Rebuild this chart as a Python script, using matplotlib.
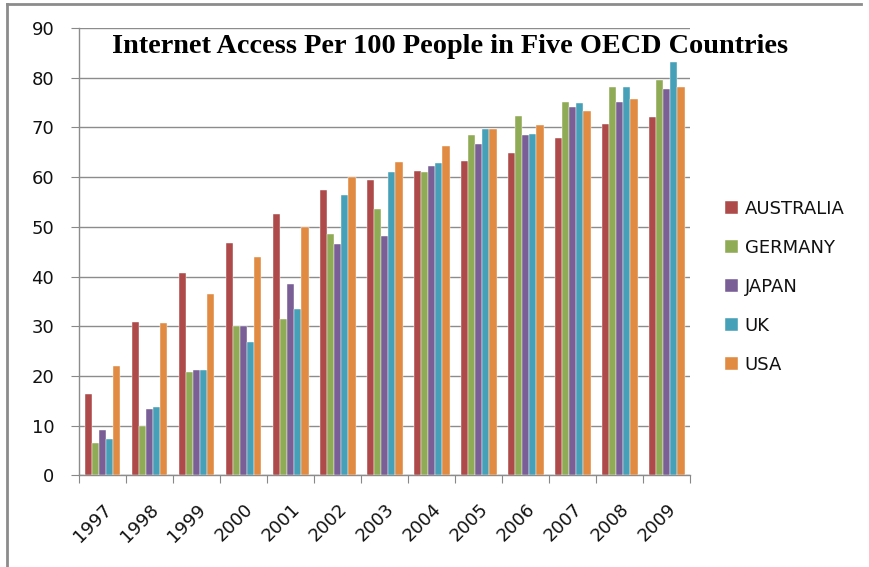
import numpy as np
import matplotlib.pyplot as plt
from matplotlib.lines import Line2D

# data
years = ["1997", "1998", "1999", "2000", "2001", "2002", "2003",
         "2004", "2005", "2006", "2007", "2008", "2009"]
australia = [16.4, 30.8, 40.8, 46.7, 52.6, 57.5, 59.4, 61.3, 63.2, 64.9, 67.9, 70.7, 72.0]
germany = [6.6, 9.9, 20.8, 30.1, 31.4, 48.6, 53.5, 61.0, 68.5, 72.2, 75.1, 78.1, 79.5]
japan = [9.2, 13.4, 21.2, 30.1, 38.5, 46.5, 48.2, 62.2, 66.7, 68.5, 74.1, 75.1, 77.7]
uk = [7.3, 13.7, 21.2, 26.8, 33.5, 56.5, 61.0, 62.8, 69.6, 68.7, 74.9, 78.1, 83.2]
usa = [21.9, 30.6, 36.5, 43.9, 50.0, 60.0, 63.0, 66.2, 69.6, 70.4, 73.4, 75.7, 78.1]

series = [
    ("AUSTRALIA", australia, "#AE4B4A"),
    ("GERMANY", germany, "#8FAB55"),
    ("JAPAN", japan, "#7A5F96"),
    ("UK", uk, "#46A0B8"),
    ("USA", usa, "#E08A42"),
]

fig = plt.figure(figsize=(8.7, 5.67), dpi=100)
ax = fig.add_axes([0.0908, 0.1617, 0.7024, 0.7889])

x = np.arange(len(years))
bw = 0.153
for i, (name, vals, col) in enumerate(series):
    ax.bar(x + (i - 2) * bw, vals, width=bw, color=col, label=name,
           edgecolor="white", linewidth=0.3, zorder=3)

ax.set_xlim(-0.5, len(years) - 0.5)
ax.set_ylim(0, 90)
ax.set_yticks(np.arange(0, 91, 10))
ax.tick_params(axis="y", labelsize=13, length=5.8, color="#888888", pad=12,
               labelcolor="#111111")

# category ticks between groups, labels at centres
ax.set_xticks(np.arange(-0.5, len(years), 1.0))
ax.set_xticklabels([])
ax.set_xticks(x, minor=True)
ax.set_xticklabels(years, minor=True, rotation=45, ha="right", va="top",
                   rotation_mode="anchor", fontsize=13, color="#111111")
ax.tick_params(axis="x", which="major", length=5.8, color="#888888")
ax.tick_params(axis="x", which="minor", length=0, pad=18)
for lbl in ax.get_xticklabels(minor=True):
    lbl.set_x(lbl.get_position()[0])

ax.grid(axis="y", color="#8c8c8c", linewidth=1, zorder=0)
ax.set_axisbelow(True)
for s in ["top", "right"]:
    ax.spines[s].set_visible(False)
for s in ["left", "bottom"]:
    ax.spines[s].set_color("#8c8c8c")
    ax.spines[s].set_linewidth(1)

fig.text(0.517, 1 - 53 / 567, "Internet Access Per 100 People in Five OECD Countries",
         ha="center", va="baseline", fontsize=20.3, fontweight="bold",
         family="Liberation Serif")

leg = fig.legend(loc="upper left", bbox_to_anchor=(0.815, 0.676), frameon=False,
                 prop={"family": "DejaVu Sans", "size": 13}, handlelength=0.68,
                 handleheight=0.68, handletextpad=0.4, labelspacing=1.16)
for t in leg.get_texts():
    t.set_color("#111111")

# screenshot frame lines at top and left
fig.add_artist(Line2D([0.008, 0.99], [0.993, 0.993], color="#8c8c8c", lw=2,
                      transform=fig.transFigure))
fig.add_artist(Line2D([0.008, 0.008], [0.0, 0.993], color="#8c8c8c", lw=2,
                      transform=fig.transFigure))

fig.savefig("out.png", dpi=100)
